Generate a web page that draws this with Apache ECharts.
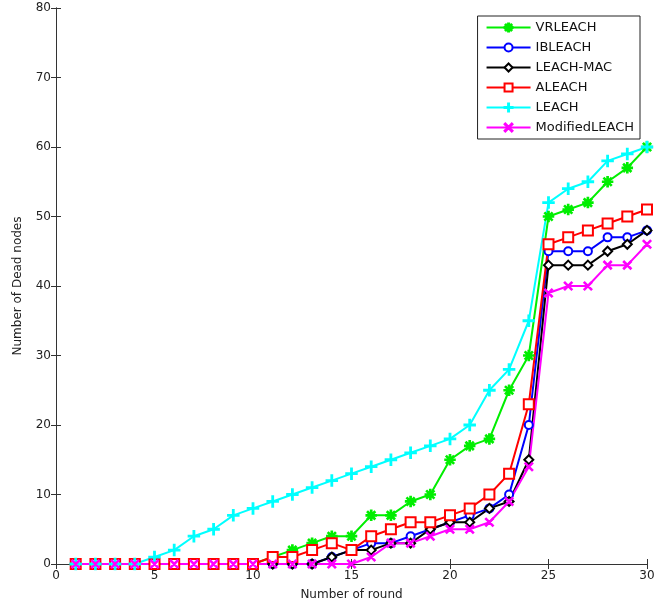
<!DOCTYPE html>
<html>
<head>
<meta charset="utf-8">
<script src="https://cdn.jsdelivr.net/npm/echarts@6/dist/echarts.min.js"></script>
<style>
  html, body { margin: 0; padding: 0; background: #fff; }
  #chart { width: 661px; height: 606px; }
</style>
</head>
<body>
<div id="chart"></div>
<script>
var rounds = [1, 2, 3, 4, 5, 6, 7, 8, 9, 10, 11, 12, 13, 14, 15, 16, 17, 18, 19, 20, 21, 22, 23, 24, 25, 26, 27, 28, 29, 30]
var vrleach = [0, 0, 0, 0, 0, 0, 0, 0, 0, 0, 1, 2, 3, 4, 4, 7, 7, 9, 10, 15, 17, 18, 25, 30, 50, 51, 52, 55, 57, 60]
var ibleach = [0, 0, 0, 0, 0, 0, 0, 0, 0, 0, 0, 0, 0, 1, 2, 3, 3, 4, 5, 6, 7, 8, 10, 20, 45, 45, 45, 47, 47, 48]
var leachMac = [0, 0, 0, 0, 0, 0, 0, 0, 0, 0, 0, 0, 0, 1, 2, 2, 3, 3, 5, 6, 6, 8, 9, 15, 43, 43, 43, 45, 46, 48]
var aleach = [0, 0, 0, 0, 0, 0, 0, 0, 0, 0, 1, 1, 2, 3, 2, 4, 5, 6, 6, 7, 8, 10, 13, 23, 46, 47, 48, 49, 50, 51]
var leach = [0, 0, 0, 0, 1, 2, 4, 5, 7, 8, 9, 10, 11, 12, 13, 14, 15, 16, 17, 18, 20, 25, 28, 35, 52, 54, 55, 58, 59, 60]
var modLeach = [0, 0, 0, 0, 0, 0, 0, 0, 0, 0, 0, 0, 0, 0, 0, 1, 3, 3, 4, 5, 5, 6, 9, 14, 39, 40, 40, 43, 43, 46]

// marker shapes like matlab
var plusPath = 'path://M4.4,0h1.2v10h-1.2z M0,4.4h10v1.2h-10z'
var crossPath = 'path://M1,1.8L1.8,1L9,8.2L8.2,9z M8.2,1L9,1.8L1.8,9L1,8.2z'
var starPath = 'path://M4.4,0h1.2v10h-1.2z M0,4.4h10v1.2h-10z M1,1.8L1.8,1L9,8.2L8.2,9z M8.2,1L9,1.8L1.8,9L1,8.2z'

function pairs (ys) {
  return rounds.map(function (r, i) { return [r, ys[i]] })
}

function mkSeries (name, ys, color, symbol, size) {
  return {
    name: name,
    type: 'line',
    data: pairs(ys),
    symbol: symbol,
    symbolSize: size,
    showAllSymbol: true,
    lineStyle: { color: color, width: 2 },
    itemStyle: { color: color, borderColor: color, borderWidth: 1.5 },
    animation: false
  }
}

var chart = echarts.init(document.getElementById('chart'))
var fontName = 'DejaVu Sans, Verdana, sans-serif'
var axisFont = { color: '#222', fontSize: 12, fontFamily: fontName }
var tickStyle = { show: true, inside: true, length: 5, lineStyle: { color: '#333', width: 1 } }

chart.setOption({
  backgroundColor: '#fff',
  grid: { left: 56, right: 14, top: 8, bottom: 41 },
  legend: {
    orient: 'vertical',
    right: 21,
    top: 16,
    padding: [5, 6, 5, 8],
    itemGap: 7,
    itemWidth: 44,
    itemHeight: 10,
    backgroundColor: '#fff',
    borderColor: '#222',
    borderWidth: 1,
    borderRadius: 0,
    textStyle: { color: '#111', fontSize: 13, fontFamily: fontName },
    data: ['VRLEACH', 'IBLEACH', 'LEACH-MAC', 'ALEACH', 'LEACH', 'ModifiedLEACH']
  },
  xAxis: [
    {
      type: 'value', min: 0, max: 30, interval: 5,
      name: 'Number of round', nameLocation: 'middle', nameGap: 25,
      nameTextStyle: axisFont,
      axisLine: { lineStyle: { color: '#333' } },
      axisTick: tickStyle,
      axisLabel: { color: '#222', fontSize: 12, fontFamily: fontName, margin: 6 },
      splitLine: { show: false }
    },
    {
      type: 'value', min: 0, max: 30, interval: 5, position: 'top',
      axisLine: { show: true, lineStyle: { color: '#333' } },
      axisTick: tickStyle,
      axisLabel: { show: false },
      splitLine: { show: false }
    }
  ],
  yAxis: [
    {
      type: 'value', min: 0, max: 80, interval: 10,
      name: 'Number of Dead nodes', nameLocation: 'middle', nameGap: 32,
      nameTextStyle: axisFont,
      axisLine: { show: true, lineStyle: { color: '#333' } },
      axisTick: tickStyle,
      axisLabel: { color: '#222', fontSize: 12, fontFamily: fontName, margin: 5 },
      splitLine: { show: false }
    },
    {
      type: 'value', min: 0, max: 80, interval: 10, position: 'right',
      axisLine: { show: true, lineStyle: { color: '#333' } },
      axisTick: tickStyle,
      axisLabel: { show: false },
      splitLine: { show: false }
    }
  ],
  series: [
    mkSeries('VRLEACH', vrleach, '#00ee00', starPath, 10),
    mkSeries('IBLEACH', ibleach, '#0000ff', 'emptyCircle', 8),
    mkSeries('LEACH-MAC', leachMac, '#000000', 'emptyDiamond', 9),
    mkSeries('ALEACH', aleach, '#ff0000', 'emptyRect', 10),
    mkSeries('LEACH', leach, '#00ffff', plusPath, 11),
    mkSeries('ModifiedLEACH', modLeach, '#ff00ff', crossPath, 8)
  ]
})
</script>
</body>
</html>
